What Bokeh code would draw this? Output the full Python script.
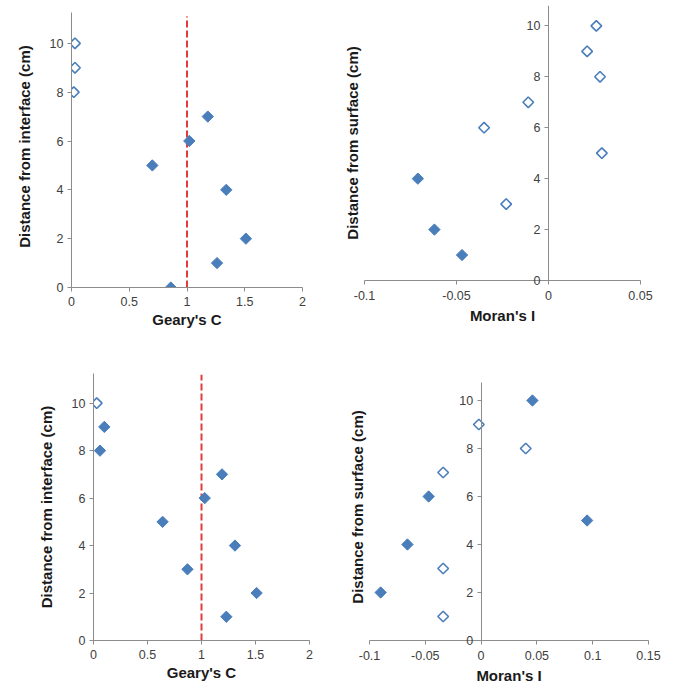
import numpy as np
from bokeh.plotting import figure
from bokeh.layouts import column, row
from bokeh.models import (LinearAxis, FixedTicker, CustomJSTickFormatter, Range1d, Label)
from bokeh.embed import file_html
from bokeh.resources import INLINE

# ---- Geary's C vs distance from interface (upper set) ----
geary_a_depth_filled = [0, 1, 2, 4, 5, 6, 7]
geary_a_filled = [0.86, 1.26, 1.51, 1.34, 0.70, 1.02, 1.18]
geary_a_depth_open = [8, 9, 10]
geary_a_open = [0.02, 0.03, 0.03]

# ---- Moran's I vs distance from surface (upper set) ----
moran_a_depth_filled = [1, 2, 4]
moran_a_filled = [-0.047, -0.062, -0.071]
moran_a_depth_open = [3, 5, 6, 7, 8, 9, 10]
moran_a_open = [-0.023, 0.029, -0.035, -0.011, 0.028, 0.021, 0.026]

# ---- Geary's C (lower set) ----
geary_b_depth_filled = [1, 2, 3, 4, 5, 6, 7, 8, 9]
geary_b_filled = [1.23, 1.51, 0.87, 1.31, 0.64, 1.03, 1.19, 0.06, 0.10]
geary_b_depth_open = [10]
geary_b_open = [0.03]

# ---- Moran's I (lower set) ----
moran_b_depth_filled = [2, 4, 5, 6, 10]
moran_b_filled = [-0.090, -0.066, 0.095, -0.047, 0.046]
moran_b_depth_open = [1, 3, 7, 8, 9]
moran_b_open = [-0.034, -0.034, -0.034, 0.040, -0.002]

geary_ticks = [0, 0.5, 1, 1.5, 2]
moran_a_ticks = [-0.1, -0.05, 0, 0.05]
moran_b_ticks = [-0.1, -0.05, 0, 0.05, 0.1, 0.15]
depth_ticks = [0, 2, 4, 6, 8, 10]
GEARY_EXPECTED = 1.0

BLUE = "#4A7EBB"
AXIS_GRAY = "#8C8C8C"
TEXT = "#404040"
FONT = "Liberation Sans"
TICK_SIZE = "12.5px"

fmt = CustomJSTickFormatter(code="return tick.toString()")


def style_axis(ax, ticks, bounds):
    ax.ticker = FixedTicker(ticks=ticks)
    ax.formatter = fmt
    ax.bounds = bounds
    ax.axis_line_color = AXIS_GRAY
    ax.major_tick_line_color = AXIS_GRAY
    ax.major_tick_in = 0
    ax.major_tick_out = 4
    ax.minor_tick_line_color = None
    ax.major_label_text_font = FONT
    ax.major_label_text_font_size = TICK_SIZE
    ax.major_label_text_color = TEXT
    ax.major_label_standoff = 4
    ax.axis_label_text_font = FONT
    ax.axis_label_text_font_style = "bold"
    ax.axis_label_text_font_size = "15px"
    ax.axis_label_text_color = "#1a1a1a"


def make_fig(w, h, xr, yr, borders):
    l, r, t, b = borders
    p = figure(width=w, height=h, x_range=Range1d(*xr), y_range=Range1d(*yr),
               output_backend="svg", toolbar_location=None,
               min_border_left=l, min_border_right=r,
               min_border_top=t, min_border_bottom=b)
    p.outline_line_color = None
    p.xgrid.visible = False
    p.ygrid.visible = False
    p.background_fill_color = "white"
    p.border_fill_color = "white"
    return p


def add_points(p, xf, yf, xo, yo):
    p.scatter(xf, yf, marker="square", angle=np.pi / 4, size=8,
              fill_color=BLUE, line_color=BLUE, line_width=1)
    p.scatter(xo, yo, marker="square", angle=np.pi / 4, size=7.5,
              fill_color="white", line_color=BLUE, line_width=1.6)


def geary_panel(w, h, borders, yr, ymax, xf, yf, xo, yo, line_top):
    p = make_fig(w, h, (0, 2), yr, borders)
    style_axis(p.xaxis[0], geary_ticks, (0, 2))
    style_axis(p.yaxis[0], depth_ticks, (0, ymax))
    p.xaxis.axis_label = "Geary's C"
    p.xaxis.major_label_standoff = 5
    p.xaxis.axis_label_standoff = 2
    p.yaxis.axis_label = "Distance from interface (cm)"
    p.yaxis.axis_label_standoff = 14
    p.segment(x0=[GEARY_EXPECTED], y0=[0], x1=[GEARY_EXPECTED], y1=[line_top],
              line_color="#E03C3C", line_width=2, line_dash="7 3")
    add_points(p, xf, yf, xo, yo)
    return p


def moran_panel(w, h, borders, xr, xticks, yr, ymax, xf, yf, xo, yo):
    p = make_fig(w, h, xr, yr, borders)
    style_axis(p.xaxis[0], xticks, xr)
    p.xaxis.axis_label = "Moran's I"
    p.xaxis.major_label_standoff = 6
    p.xaxis.axis_label_standoff = 4
    # value axis drawn through I = 0
    yax = p.yaxis[0]
    style_axis(yax, [t for t in depth_ticks if t != 0], (0, ymax))
    yax.fixed_location = 0
    yax.axis_label = None
    # the zero label straddles the frame edge; kept in a side panel so it is not clipped
    p.add_layout(Label(x=0, y=0, x_offset=-8, text="0", text_align="right",
                       text_baseline="middle", text_font=FONT,
                       text_font_size=TICK_SIZE, text_color=TEXT), "right")
    # title-only axis at the frame edge
    lab = LinearAxis(ticker=FixedTicker(ticks=[]), axis_line_color=None,
                     major_tick_line_color=None, minor_tick_line_color=None,
                     major_label_text_font_size="0px",
                     axis_label="Distance from surface (cm)",
                     axis_label_standoff=4,
                     axis_label_text_font=FONT,
                     axis_label_text_font_style="bold",
                     axis_label_text_font_size="15px",
                     axis_label_text_color="#1a1a1a")
    p.add_layout(lab, "left")
    add_points(p, xf, yf, xo, yo)
    return p


# upper row: frames share top/bottom borders, so the ranges set where 0 falls
p1 = geary_panel(338, 340, (71, 36, 5, 53), (0, 11.55), 11.25,
                 geary_a_filled, geary_a_depth_filled,
                 geary_a_open, geary_a_depth_open, 11.1)
p2 = moran_panel(338, 333, (26, 36, 5, 53), (-0.1, 0.05), moran_a_ticks,
                 (0, 10.8), 10.8,
                 moran_a_filled, moran_a_depth_filled,
                 moran_a_open, moran_a_depth_open)
p3 = geary_panel(338, 348, (93, 29, 33, 48), (0, 11.25), 11.25,
                 geary_b_filled, geary_b_depth_filled,
                 geary_b_open, geary_b_depth_open, 11.2)
p4 = moran_panel(338, 348, (31, 28, 33, 48), (-0.1, 0.15), moran_b_ticks,
                 (0, 11.125), 10.75,
                 moran_b_filled, moran_b_depth_filled,
                 moran_b_open, moran_b_depth_open)

layout = column(row(p1, p2, spacing=0), row(p3, p4, spacing=0), spacing=0)

open("out.html", "w").write(file_html(layout, INLINE))
